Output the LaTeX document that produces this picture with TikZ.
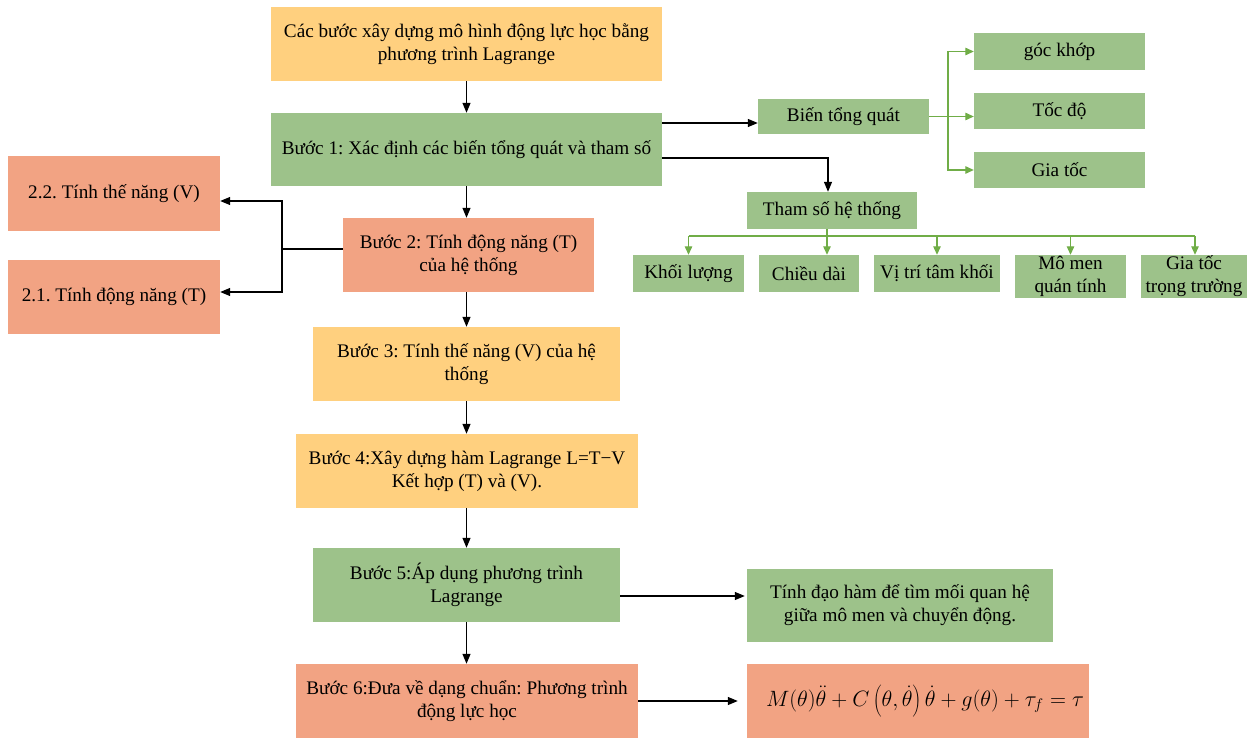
\documentclass[tikz,border=0pt]{standalone}
\usepackage{graphicx}
\usepackage{fontspec}
\setmainfont{Liberation Serif}
\usetikzlibrary{arrows.meta}

\definecolor{boxyellow}{HTML}{FFD07F}
\definecolor{boxgreen}{HTML}{9DC28A}
\definecolor{boxsalmon}{HTML}{F2A383}
\definecolor{linkgreen}{HTML}{70AD47}

\frenchspacing
\begin{document}
\begin{tikzpicture}[x=1pt, y=-1pt,
  every node/.style={font=\fontsize{19.2}{23}\selectfont, text=black},
  block/.style={rectangle, draw=none, inner sep=0pt, align=center},
  yel/.style={block, fill=boxyellow},
  grn/.style={block, fill=boxgreen},
  sal/.style={block, fill=boxsalmon},
  arr/.style={line width=1.2pt, -{Triangle[length=10pt,width=8pt]}},
  plain/.style={line width=1.2pt},
  garr/.style={line width=1.2pt, draw=linkgreen, -{Triangle[length=8.5pt,width=7.5pt]}, color=linkgreen},
  gline/.style={line width=1.2pt, draw=linkgreen}]

\useasboundingbox (0,0) rectangle (1257,738);

% main column
\node[yel, minimum width=391pt, minimum height=74pt] (title) at (466.5,44)
  {Các bước xây dựng mô hình động lực học bằng\\phương trình Lagrange};
\node[grn, minimum width=391pt, minimum height=73pt] (b1) at (466.5,149.5)
  {Bước 1: Xác định các biến tổng quát và tham số};
\node[sal, minimum width=251pt, minimum height=74pt] (b2) at (468.5,255)
  {Bước 2: Tính động năng (T)\\của hệ thống};
\node[yel, minimum width=307pt, minimum height=74pt] (b3) at (466.5,364)
  {Bước 3: Tính thế năng (V) của hệ\\thống};
\node[yel, minimum width=342pt, minimum height=74pt] (b4) at (467,471)
  {Bước 4:Xây dựng hàm Lagrange L=T−V\\Kết hợp (T) và (V).};
\node[grn, minimum width=307pt, minimum height=74pt] (b5) at (466.5,585)
  {Bước 5:Áp dụng phương trình\\Lagrange};
\node[sal, minimum width=342pt, minimum height=74pt] (b6) at (467,701)
  {Bước 6:Đưa về dạng chuẩn: Phương trình\\động lực học};

% sub-steps of step 2
\node[sal, minimum width=212pt, minimum height=75pt] (s22) at (114,193.5)
  {2.2. Tính thế năng (V)};
\node[sal, minimum width=212pt, minimum height=74pt] (s21) at (114,297)
  {2.1. Tính động năng (T)};

% generalised variables
\node[grn, minimum width=171pt, minimum height=35pt] (bien) at (843.5,116.5) {Biến tổng quát};
\node[grn, minimum width=171pt, minimum height=37pt] (goc) at (1059.5,51.5) {góc khớp};
\node[grn, minimum width=171pt, minimum height=36pt] (tocdo) at (1059.5,111) {Tốc độ};
\node[grn, minimum width=171pt, minimum height=36pt] (giatoc) at (1059.5,170) {Gia tốc};

% system parameters
\node[grn, minimum width=170pt, minimum height=37pt] (thamso) at (832,210.5) {Tham số hệ thống};
\node[grn, minimum width=111pt, minimum height=37pt] (khoi) at (688.5,273.5) {Khối lượng};
\node[grn, minimum width=100pt, minimum height=37pt] (chieu) at (809,273.5) {Chiều dài};
\node[grn, minimum width=126pt, minimum height=37pt] (vitri) at (937,273.5) {Vị trí tâm khối};
\node[grn, minimum width=111pt, minimum height=43pt] (momen) at (1070.5,276.5) {Mô men\\quán tính};
\node[grn, minimum width=106pt, minimum height=43pt] (gtt) at (1194,276.5) {Gia tốc\\trọng trường};

% results
\node[grn, minimum width=306pt, minimum height=73pt] (daoham) at (900,605.5)
  {Tính đạo hàm để tìm mối quan hệ\\giữa mô men và chuyển động.};
\node[sal, minimum width=342pt, minimum height=74pt] (formula) at (918,701)
  {\fontsize{22}{26}\selectfont\hspace*{14pt}\resizebox{318pt}{!}{$M(\theta)\ddot{\theta}+C\left(\theta,\dot{\theta}\right)\dot{\theta}+g(\theta)+\tau_f=\tau$}};

% main column arrows
\draw[arr] (title.south) -- (b1.north);
\draw[arr] (b1.south) -- (b1.south |- b2.north);
\draw[arr] (b2.south -| b1.south) -- (b3.north -| b1.south);
\draw[arr] (b3.south) -- (b4.north -| b3.south);
\draw[arr] (b4.south -| b3.south) -- (b5.north);
\draw[arr] (b5.south) -- (b6.north -| b5.south);

% step 1 branches
\draw[arr] ([yshift=26.5pt]b1.east) -- ([yshift=26.5pt]b1.east -| bien.west);
\draw[arr] ([yshift=-8.5pt]b1.east) -| ([xshift=-4pt]thamso.north);

% generalised variables fan-out
\coordinate (gj) at (948,116.5);
\draw[gline] (bien.east) -- (gj);
\draw[garr] (gj) -- (gj -| tocdo.west);
\draw[garr] (gj) |- (goc.west);
\draw[garr] (gj) |- (giatoc.west);

% system parameters fan-out
\coordinate (bus) at (827,236);
\draw[gline] ([xshift=-5pt]thamso.south) -- (bus);
\draw[gline] (khoi.north |- bus) -- ([xshift=1pt]gtt.north |- bus);
\draw[garr] (khoi.north |- bus) -- (khoi.north);
\draw[garr] (bus) -- (bus |- chieu.north);
\draw[garr] (vitri.north |- bus) -- (vitri.north);
\draw[garr] (momen.north |- bus) -- (momen.north);
\draw[garr] ([xshift=1pt]gtt.north |- bus) -- ([xshift=1pt]gtt.north);

% step 2 split
\coordinate (lj) at (282,249);
\draw[plain] (b2.west |- lj) -- (lj);
\draw[arr] (lj) |- ([yshift=-7.5pt]s22.east);
\draw[arr] (lj) |- ([yshift=5pt]s21.east);

% results arrows
\draw[arr] ([yshift=-11pt]b5.east) -- ([yshift=-11pt,xshift=-2pt]b5.east -| daoham.west);
\draw[arr, shorten >=9pt] (b6.east) -- (b6.east -| formula.west);

\end{tikzpicture}
\end{document}
